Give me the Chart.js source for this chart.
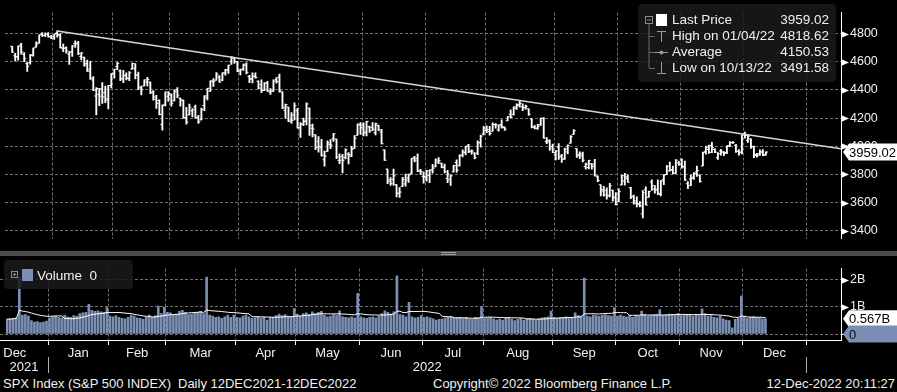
<!DOCTYPE html>
<html>
<head>
  <title>SPX Index - Bloomberg style</title>
  <script src="https://cdn.jsdelivr.net/npm/chart.js@4.4.1/dist/chart.umd.min.js"></script>
  <style>
    body {
      margin: 0;
      background: #000;
      width: 897px;
      height: 392px;
      overflow: hidden;
      position: relative;
      font-family: "Liberation Sans", Arial, sans-serif;
      color: #f0f0f0;
    }
    .abs { position: absolute; }
    #priceWrap { left: 0; top: 0; width: 897px; height: 251px; }
    #volWrap { left: 0; top: 256px; width: 897px; height: 120px; }
    #sep { left: 0; top: 251px; width: 897px; height: 5px; background: #4a4a4a; }
    #sep .grip { position: absolute; left: 441px; width: 15px; height: 1px; background: #a0a0a0; }

    .legend {
      position: absolute;
      background: rgba(26, 26, 26, 0.86);
      border-radius: 4px;
      font-size: 13.5px;
      line-height: 16px;
      white-space: nowrap;
    }
    #priceLegend { left: 638px; top: 4px; width: 198px; height: 78px; }
    #priceLegend .row { position: absolute; left: 34px; right: 7px; height: 16px; }
    #priceLegend .row span.v { position: absolute; right: 0; }
    #volLegend { left: 4px; top: 260px; width: 129px; height: 29px; }

    .foot { position: absolute; top: 376px; font-size: 13px; line-height: 15px; white-space: nowrap; }
  </style>
</head>
<body>
  <div id="priceWrap" class="abs"><canvas id="priceChart" width="897" height="251"></canvas></div>
  <div id="sep" class="abs"><div class="grip" style="top:1px"></div><div class="grip" style="top:3px"></div></div>
  <div id="volWrap" class="abs"><canvas id="volChart" width="897" height="120"></canvas></div>

  <div id="priceLegend" class="legend">
    <svg class="abs" style="left:0;top:0" width="32" height="78">
      <rect x="7.5" y="12.5" width="7" height="7" fill="none" stroke="#8a8a8a"/>
      <line x1="9" y1="16" x2="13" y2="16" stroke="#8a8a8a"/>
      <line x1="11" y1="20" x2="11" y2="64.5" stroke="#6a6a6a"/>
      <line x1="11" y1="32.5" x2="17" y2="32.5" stroke="#6a6a6a"/>
      <line x1="11" y1="48.5" x2="17" y2="48.5" stroke="#6a6a6a"/>
      <line x1="11" y1="64.5" x2="17" y2="64.5" stroke="#6a6a6a"/>
      <rect x="18" y="10" width="11" height="12" fill="#fff"/>
      <line x1="19" y1="27.5" x2="28" y2="27.5" stroke="#9a9a9a"/>
      <line x1="23.5" y1="27" x2="23.5" y2="38" stroke="#9a9a9a"/>
      <line x1="17" y1="48.5" x2="30" y2="48.5" stroke="#9a9a9a"/>
      <circle cx="23.5" cy="48.5" r="2" fill="#9a9a9a"/>
      <line x1="23.5" y1="58" x2="23.5" y2="69" stroke="#9a9a9a"/>
      <line x1="19" y1="69.5" x2="28" y2="69.5" stroke="#9a9a9a"/>
    </svg>
    <div class="row" style="top:8px">Last Price<span class="v">3959.02</span></div>
    <div class="row" style="top:24px">High on 01/04/22<span class="v">4818.62</span></div>
    <div class="row" style="top:40px">Average<span class="v">4150.53</span></div>
    <div class="row" style="top:56px">Low on 10/13/22<span class="v">3491.58</span></div>
  </div>

  <div id="volLegend" class="legend">
    <svg class="abs" style="left:0;top:0" width="32" height="29">
      <rect x="7.5" y="11.5" width="6" height="6" fill="none" stroke="#8a8a8a"/>
      <line x1="9" y1="14.5" x2="12" y2="14.5" stroke="#8a8a8a"/>
      <line x1="10.5" y1="13" x2="10.5" y2="16" stroke="#8a8a8a"/>
      <rect x="18" y="9" width="11" height="12" fill="#7b8fb4"/>
    </svg>
    <div class="abs" style="left:33px;top:8px">Volume&nbsp; 0</div>
  </div>

  <div class="foot" style="left:3px">SPX Index (S&amp;P 500 INDEX)</div>
  <div class="foot" style="left:178px">Daily 12DEC2021-12DEC2022</div>
  <div class="foot" style="left:433px">Copyright© 2022 Bloomberg Finance L.P.</div>
  <div class="foot" style="right:2px">12-Dec-2022 20:11:27</div>

  <script>
    // trading day index 0 = 13 Dec 2021, 251 = 12 Dec 2022
    const open = [
      4710,4642,4637,4719,4652,4587,4594,4645,4704,4733,4795,4788,4795,4776,
      4778,4804,4788,4693,4698,4655,4670,4728,4734,4637,4632,4588,4547,4471,4357,4367,4408,4380,4337,4431,
      4519,4567,4535,4483,4505,4481,4548,4553,4507,4413,4429,4456,4456,4385,4333,4325,4155,4298,4355,
      4363,4323,4401,4342,4327,4202,4223,4252,4279,4203,4188,4289,4345,4392,4462,4470,4493,4470,4523,4541,4603,4624,4600,
      4540,4547,4573,4495,4475,4494,4462,4437,4397,4449,4386,4391,4473,4490,4385,4255,4278,4186,4222,4253,
      4131,4159,4181,4271,4128,4082,4035,3990,3904,3964,4013,4053,4051,3900,3928,3920,3943,3930,3984,4078,4151,
      4150,4096,4137,4134,4096,4148,4101,3974,3838,3763,3764,3728,3665,3715,3733,3775,3805,3921,3913,3826,3786,
      3781,3793,3831,3858,3889,3880,3851,3771,3764,3818,3884,3861,3935,3955,4007,3965,3953,3951,4026,4087,
      4112,4105,4107,4154,4116,4155,4133,4181,4228,4227,4269,4290,4281,4274,4266,4195,4134,4127,4154,4198,4034,4041,4000,
      3937,3994,3931,3910,3960,4022,4084,3983,3940,3932,3856,3849,3876,3872,3782,3727,3682,3687,3651,3688,3633,
      3609,3726,3753,3772,3706,3646,3595,3591,3521,3691,3638,3746,3696,3689,3657,3763,3799,3825,3834,3809,3881,
      3902,3853,3734,3767,3781,3818,3796,3860,3964,3977,4006,3977,3919,3967,3957,3956,4000,4024,4005,3965,3958,
      4087,4041,4052,3996,3934,3947,3954,3940
    ];
    const high = [
      4710,4660,4713,4731,4666,4594,4651,4698,4741,4791,4807,4805,4808,4787,
      4797,4819,4798,4726,4707,4673,4715,4749,4745,4666,4633,4612,4603,4495,4417,4411,4453,4428,4432,4517,
      4547,4596,4542,4540,4521,4531,4590,4588,4527,4427,4472,4489,4456,4395,4362,4329,4294,4385,4389,
      4372,4401,4417,4343,4328,4277,4300,4268,4292,4219,4272,4358,4412,4465,4481,4523,4502,4521,4547,4576,4637,4628,4604,
      4548,4583,4593,4503,4521,4521,4464,4471,4453,4461,4410,4471,4488,4513,4386,4299,4278,4240,4308,4269,
      4169,4200,4308,4271,4158,4082,4069,4050,3965,4038,4047,4091,4051,3946,3943,3981,3955,3999,4076,4158,4169,
      4167,4177,4143,4168,4164,4150,4120,3974,3838,3778,3838,3728,3707,3779,3802,3802,3914,3928,3946,3837,3819,
      3829,3832,3871,3910,3919,3880,3874,3830,3796,3864,3903,3939,3975,3999,4013,3975,3953,4039,4079,4141,
      4145,4141,4167,4161,4152,4187,4138,4211,4258,4280,4301,4325,4302,4292,4266,4195,4149,4156,4200,4204,4062,4045,4015,
      3970,4019,3942,3987,4010,4076,4119,3984,3961,3959,3880,3900,3877,3907,3790,3727,3716,3705,3736,3688,3671,
      3698,3793,3807,3798,3709,3653,3641,3608,3686,3712,3681,3762,3721,3762,3757,3799,3862,3887,3859,3905,3893,
      3911,3895,3750,3796,3813,3859,3796,3959,4002,4009,4028,3984,3955,3979,3962,4004,4034,4034,4013,3976,4080,
      4101,4077,4053,4001,3950,3974,3977,3960
    ];
    const low = [
      4667,4606,4612,4654,4600,4531,4583,4639,4703,4733,4781,4778,4775,4765,
      4758,4774,4699,4671,4662,4582,4638,4702,4651,4614,4568,4531,4475,4396,4223,4288,4304,4309,4265,4414,
      4483,4544,4465,4451,4471,4465,4548,4478,4402,4364,4429,4429,4374,4327,4268,4222,4115,4287,4318,
      4285,4322,4345,4285,4199,4157,4223,4209,4200,4162,4187,4252,4330,4390,4425,4469,4455,4465,4505,4518,4582,4589,4530,
      4507,4539,4514,4451,4450,4484,4408,4381,4395,4390,4368,4390,4448,4385,4267,4200,4175,4163,4188,4128,
      4062,4147,4152,4077,4067,3975,3958,3929,3859,3964,3983,4034,3912,3877,3810,3910,3875,3926,3984,4078,4084,
      4074,4074,4098,4110,4081,4111,4017,3900,3735,3722,3722,3640,3637,3715,3717,3743,3805,3889,3820,3800,3738,
      3752,3742,3809,3853,3877,3847,3810,3742,3722,3818,3814,3860,3925,3938,3955,3944,3911,3941,3993,4080,
      4096,4079,4107,4129,4107,4128,4112,4181,4201,4220,4262,4278,4253,4263,4219,4131,4123,4120,4148,4057,4018,3971,3955,
      3903,3907,3886,3906,3945,4022,4084,3921,3912,3888,3837,3839,3838,3789,3749,3648,3645,3624,3641,3610,3584,
      3604,3726,3723,3745,3628,3588,3569,3570,3492,3583,3638,3687,3667,3657,3648,3728,3799,3824,3804,3808,3864,
      3844,3758,3699,3721,3764,3786,3745,3860,3944,3949,3954,3955,3907,3936,3933,3948,3999,4021,3956,3937,3946,
      4058,4027,3984,3919,3922,3935,3933,3937
    ];
    const close = [
      4669,4634,4710,4669,4621,4568,4649,4697,4726,4791,4786,4793,4779,4766,
      4797,4794,4701,4696,4677,4670,4713,4726,4659,4663,4577,4533,4483,4398,4410,4356,4350,4327,4432,4516,
      4547,4589,4477,4501,4484,4522,4587,4504,4419,4402,4471,4475,4380,4349,4305,4226,4289,4385,4374,
      4306,4387,4363,4329,4201,4171,4278,4260,4204,4173,4262,4358,4412,4463,4461,4512,4456,4520,4543,4576,4632,4602,4530,
      4546,4583,4525,4481,4500,4488,4413,4397,4447,4393,4392,4462,4459,4394,4272,4296,4175,4184,4288,4132,
      4155,4175,4300,4147,4123,3991,4001,3935,3930,4024,4008,4089,3924,3901,3901,3974,3941,3979,4058,4158,4132,
      4101,4177,4109,4121,4161,4116,4018,3901,3750,3735,3790,3667,3675,3765,3760,3796,3912,3900,3822,3819,3785,
      3825,3831,3845,3903,3899,3854,3819,3802,3790,3863,3831,3937,3960,3999,3962,3967,3921,4024,4072,4130,
      4119,4091,4155,4152,4145,4140,4122,4210,4207,4280,4297,4305,4274,4284,4228,4138,4129,4141,4199,4058,4031,3986,3955,
      3967,3924,3908,3980,4006,4067,4110,3933,3946,3901,3873,3900,3856,3790,3758,3693,3655,3647,3719,3640,3586,
      3678,3791,3783,3745,3640,3612,3589,3577,3670,3583,3678,3720,3695,3666,3753,3797,3859,3831,3807,3901,3872,
      3856,3760,3720,3771,3807,3828,3749,3956,3993,3957,3992,3959,3947,3965,3950,4004,4027,4026,3964,3958,4080,
      4077,4072,3999,3941,3934,3964,3934,3959.02
    ];
    // volume in billions
    const volume = [
      0.55,0.56,0.58,0.60,2.10,0.70,0.72,0.66,0.50,0.44,0.46,0.42,0.44,0.48,
      0.60,0.64,0.66,0.62,0.60,0.70,0.64,0.62,0.68,0.66,0.76,0.78,0.80,1.10,0.88,0.84,0.86,0.82,0.80,0.98,
      0.66,0.64,0.68,0.62,0.58,0.56,0.62,0.70,0.66,0.60,0.58,0.54,0.62,0.70,0.64,0.68,1.03,0.76,1.00,
      0.80,0.78,0.72,0.74,0.84,0.88,0.80,0.72,0.74,0.78,0.80,0.84,0.76,2.10,0.70,0.66,0.62,0.64,0.58,0.64,0.70,0.62,0.70,
      0.62,0.60,0.66,0.70,0.64,0.58,0.60,0.64,0.58,0.62,0.52,0.60,0.62,0.68,0.74,0.68,0.72,0.66,0.64,0.94,
      0.74,0.66,0.76,0.78,0.72,0.82,0.76,0.80,0.84,0.70,0.64,0.66,0.72,0.70,0.86,0.64,0.62,0.60,0.64,0.60,1.50,
      0.64,0.60,0.58,0.62,0.64,0.60,0.66,0.76,0.86,0.80,0.74,0.82,2.15,0.72,0.70,0.64,1.17,0.64,0.60,0.62,0.68,
      0.62,0.64,0.60,0.56,0.52,0.54,0.56,0.60,0.62,0.64,0.58,0.60,0.62,0.58,0.62,0.56,0.56,0.62,0.60,1.00,
      0.58,0.60,0.62,0.56,0.52,0.55,0.52,0.58,0.60,0.55,0.50,0.54,0.58,0.52,0.55,0.58,0.55,0.52,0.56,0.60,0.62,0.64,0.85,
      0.62,0.58,0.60,0.62,0.64,0.60,0.58,0.78,0.68,0.66,2.07,0.66,0.64,0.70,0.68,0.66,0.70,0.72,0.68,0.66,0.98,
      0.66,0.70,0.66,0.64,0.68,0.62,0.68,0.66,0.85,0.72,0.66,0.68,0.70,0.72,0.90,0.68,0.70,0.74,0.72,0.70,0.76,
      0.68,0.70,0.72,0.70,0.66,0.70,0.68,0.93,0.76,0.66,0.68,0.62,0.60,0.66,0.56,0.52,0.50,0.23,0.54,0.58,1.40,
      0.64,0.58,0.62,0.64,0.62,0.60,0.56,0.567
    ];

    const monthLabels = ['Dec','Jan','Feb','Mar','Apr','May','Jun','Jul','Aug','Sep','Oct','Nov','Dec'];
    const monthCenters = [2.5, 23.5, 43, 64, 85.5, 106, 127, 147.5, 169, 191, 212, 233, 254];
    const monthBounds = [13.5, 33.5, 52.5, 75.5, 95.5, 116.5, 137.5, 157.5, 180.5, 201.5, 222.5, 243.5, 264.5];
    const yearLabels = ['2021', '2022'];
    const yearBounds = [13.5, 264.5];
    const priceTicks = [3400,3500,3600,3700,3800,3900,4000,4100,4200,4300,4400,4500,4600,4700,4800,4900];
    const volTicks = [0, 0.5, 1, 1.5, 2];
    // trend line from the 01/04/22 high through the 03/29 and 08/16 highs
    const trendX = [15, 276];
    const trendY = [4818.62, 3982.5];

    const X_MIN = -2.4, X_MAX = 276;
    const FONT = '"Liberation Sans", Arial, sans-serif';
    const TEXT = '#f0f0f0';
    const GRID = '#707070';
    const VOLCOL = '#7b8fb4';

    const n = Math.min(open.length, high.length, low.length, close.length);
    const hlBars = [], openTicks = [], closeTicks = [];
    for (let i = 0; i < n; i++) {
      hlBars.push({ x: i, y: [low[i], high[i]] });
      openTicks.push({ x: i - 0.33, y: open[i] });
      closeTicks.push({ x: i + 0.33, y: close[i] });
    }
    const trend = trendX.map((x, i) => ({ x: x, y: trendY[i] }));

    // 15 day volume average (partial window at the start)
    function movingAvg(arr, len) {
      return arr.map((_, i) => {
        const s = arr.slice(Math.max(0, i - len + 1), i + 1);
        return s.reduce((a, b) => a + b, 0) / s.length;
      });
    }
    const volAvg = movingAvg(volume, 15);
    const volBars = volume.map((v, i) => ({ x: i, y: v }));
    const volLine = volAvg.map((v, i) => ({ x: i, y: v }));

    function drawTag(ctx, x0, x1, y, text, fill, color) {
      const h = 17;
      ctx.save();
      ctx.beginPath();
      ctx.moveTo(x0, y);
      ctx.lineTo(x0 + 6, y - h / 2);
      ctx.lineTo(x1, y - h / 2);
      ctx.lineTo(x1, y + h / 2);
      ctx.lineTo(x0 + 6, y + h / 2);
      ctx.closePath();
      ctx.fillStyle = fill;
      ctx.fill();
      ctx.fillStyle = color;
      ctx.font = '13px ' + FONT;
      ctx.textBaseline = 'middle';
      ctx.textAlign = 'left';
      ctx.fillText(text, x0 + 6, y + 1);
      ctx.restore();
    }

    function drawMarkers(chart, values) {
      const ctx = chart.ctx, y = chart.scales.y, x0 = chart.chartArea.right;
      ctx.save();
      ctx.fillStyle = '#fff';
      values.forEach(v => {
        const py = Math.round(y.getPixelForValue(v)) + 0.5;
        ctx.beginPath();
        ctx.moveTo(x0, py - 3.5);
        ctx.lineTo(x0 + 8, py);
        ctx.lineTo(x0, py + 3.5);
        ctx.closePath();
        ctx.fill();
      });
      ctx.restore();
    }

    const pricePlugin = {
      id: 'priceTags',
      afterDraw(chart) {
        drawMarkers(chart, priceTicks.filter(v => v % 200 === 0));
        const last = close[n - 1];
        drawTag(chart.ctx, chart.chartArea.right + 2, 897, chart.scales.y.getPixelForValue(last), last.toFixed(2), '#fff', '#000');
      }
    };

    const volPlugin = {
      id: 'volTags',
      afterDraw(chart) {
        const ctx = chart.ctx, x = chart.scales.x, y = chart.scales.y, area = chart.chartArea;
        drawMarkers(chart, [1, 2]);
        const last = volume[volume.length - 1];
        drawTag(ctx, area.right + 2, 897, y.getPixelForValue(last), last.toFixed(3) + 'B', '#fff', '#000');
        drawTag(ctx, area.right + 2, 897, y.getPixelForValue(0), '0', VOLCOL, '#0a0a0a');
        // year labels and separators
        ctx.save();
        ctx.font = '13px ' + FONT;
        ctx.fillStyle = TEXT;
        ctx.textAlign = 'center';
        ctx.textBaseline = 'middle';
        const edges = [area.left, x.getPixelForValue(yearBounds[0]), x.getPixelForValue(yearBounds[1])];
        yearLabels.forEach((lab, i) => {
          ctx.fillText(lab, (edges[i] + edges[i + 1]) / 2, area.bottom + 27);
        });
        ctx.strokeStyle = '#b0b0b0';
        ctx.lineWidth = 1;
        yearBounds.forEach(b => {
          const px = Math.round(x.getPixelForValue(b)) + 0.5;
          ctx.beginPath();
          ctx.moveTo(px, area.bottom + 17);
          ctx.lineTo(px, area.bottom + 33);
          ctx.stroke();
        });
        ctx.restore();
      }
    };

    const baseOpts = {
      responsive: false,
      animation: false,
      events: [],
      layout: { padding: 0 },
      plugins: { legend: { display: false }, tooltip: { enabled: false } }
    };

    new Chart(document.getElementById('priceChart'), {
      type: 'bar',
      data: {
        datasets: [
          { type: 'line', data: trend, borderColor: '#d6d6d6', borderWidth: 1.6, pointRadius: 0, order: 0 },
          { type: 'line', data: openTicks, showLine: false, pointStyle: 'line', pointRadius: 1, pointBorderWidth: 1, pointBorderColor: '#fff', order: 1 },
          { type: 'line', data: closeTicks, showLine: false, pointStyle: 'line', pointRadius: 1, pointBorderWidth: 1, pointBorderColor: '#fff', order: 1 },
          { type: 'bar', data: hlBars, backgroundColor: '#fff', barThickness: 1.2, order: 2 }
        ]
      },
      options: Object.assign({}, baseOpts, {
        scales: {
          x: {
            type: 'linear', min: X_MIN, max: X_MAX, offset: false,
            afterBuildTicks: s => { s.ticks = monthBounds.map(v => ({ value: v })); },
            afterFit: s => { s.height = 0; },
            ticks: { display: false },
            grid: { color: GRID, offset: false, drawTicks: false },
            border: { display: false, dash: [3, 2] }
          },
          y: {
            position: 'right', min: 3345, max: 4950,
            afterBuildTicks: s => { s.ticks = priceTicks.map(v => ({ value: v })); },
            afterFit: s => { s.width = 56; },
            ticks: {
              color: TEXT, padding: 5, font: { family: FONT, size: 12.5 },
              callback: v => (v % 200 === 0 ? String(v) : '')
            },
            grid: {
              color: c => (c.tick && c.tick.value % 200 === 0 ? GRID : 'rgba(0,0,0,0)'),
              tickColor: '#fff', tickLength: 4
            },
            border: { color: '#fff', width: 1, dash: [3, 2] }
          }
        }
      }),
      plugins: [pricePlugin]
    });

    const xTicks = monthBounds.concat(monthCenters).sort((a, b) => a - b);
    const isBound = v => monthBounds.indexOf(v) >= 0;

    new Chart(document.getElementById('volChart'), {
      type: 'bar',
      data: {
        datasets: [
          { type: 'line', data: volLine, borderColor: '#fff', borderWidth: 1, pointRadius: 0, order: 0 },
          { type: 'bar', data: volBars, backgroundColor: VOLCOL, barThickness: 2, order: 1 }
        ]
      },
      options: Object.assign({}, baseOpts, {
        scales: {
          x: {
            type: 'linear', min: X_MIN, max: X_MAX, offset: false,
            afterBuildTicks: s => { s.ticks = xTicks.map(v => ({ value: v })); },
            afterFit: s => { s.height = 36; },
            ticks: {
              autoSkip: false, maxRotation: 0, color: TEXT, padding: 1,
              font: { family: FONT, size: 13 },
              callback: v => { const k = monthCenters.indexOf(v); return k >= 0 ? monthLabels[k] : ''; }
            },
            grid: {
              offset: false,
              color: c => (c.tick && isBound(c.tick.value) ? GRID : 'rgba(0,0,0,0)'),
              tickColor: c => (c.tick && isBound(c.tick.value) ? '#fff' : 'rgba(0,0,0,0)'),
              tickLength: 5
            },
            border: { color: '#fff', width: 1, dash: [3, 2] }
          },
          y: {
            position: 'right', min: -0.22, max: 2.42,
            afterBuildTicks: s => { s.ticks = volTicks.map(v => ({ value: v })); },
            afterFit: s => { s.width = 56; },
            ticks: {
              color: TEXT, padding: 5, font: { family: FONT, size: 12.5 },
              callback: v => (v === 2 ? '2B' : v === 1 ? '1B' : '')
            },
            grid: {
              color: c => (c.tick && Number.isInteger(c.tick.value) ? GRID : 'rgba(0,0,0,0)'),
              tickColor: '#fff', tickLength: 4
            },
            border: { color: '#fff', width: 1, dash: [3, 2] }
          }
        }
      }),
      plugins: [volPlugin]
    });
  </script>
</body>
</html>
